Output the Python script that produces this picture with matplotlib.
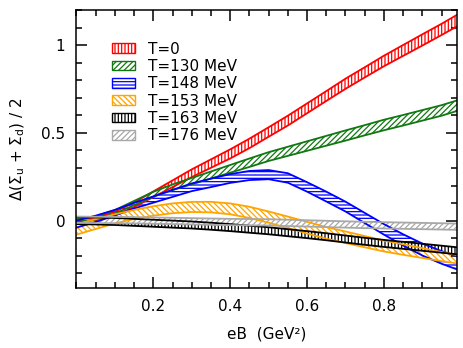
import numpy as np
import matplotlib
matplotlib.use("Agg")
import matplotlib.pyplot as plt
from matplotlib.patches import Patch
from matplotlib.ticker import MultipleLocator, FixedLocator

# eB grid (GeV^2) and band centres / half widths
eB = [0.0, 0.05, 0.1, 0.15, 0.2, 0.25, 0.3, 0.35, 0.4, 0.45, 0.5,
      0.55, 0.6, 0.65, 0.7, 0.75, 0.8, 0.85, 0.9, 0.95, 0.99]

t0_mid = [0.0, 0.01, 0.04, 0.09, 0.15, 0.21, 0.27, 0.325, 0.38, 0.44, 0.505,
          0.57, 0.64, 0.71, 0.78, 0.845, 0.91, 0.97, 1.03, 1.09, 1.14]
t0_hw = [0.006, 0.008, 0.01, 0.013, 0.016, 0.019, 0.022, 0.024, 0.026, 0.027, 0.027,
         0.028, 0.028, 0.028, 0.029, 0.029, 0.030, 0.031, 0.032, 0.032, 0.033]

t130_mid = [0.0, 0.015, 0.05, 0.1, 0.15, 0.19, 0.225, 0.26, 0.295, 0.33, 0.365,
            0.395, 0.425, 0.455, 0.485, 0.515, 0.545, 0.572, 0.60, 0.628, 0.655]
t130_hw = [0.008, 0.009, 0.01, 0.012, 0.014, 0.016, 0.018, 0.02, 0.022, 0.024, 0.025,
           0.026, 0.027, 0.028, 0.029, 0.029, 0.030, 0.030, 0.030, 0.030, 0.030]

t148_mid = [-0.02, 0.01, 0.045, 0.085, 0.12, 0.155, 0.19, 0.215, 0.24, 0.257, 0.262,
            0.243, 0.192, 0.137, 0.08, 0.015, -0.05, -0.11, -0.165, -0.21, -0.24]
t148_hw = [0.02, 0.018, 0.016, 0.016, 0.018, 0.02, 0.022, 0.024, 0.025, 0.026, 0.026,
           0.027, 0.027, 0.028, 0.028, 0.029, 0.030, 0.032, 0.034, 0.036, 0.038]

t153_mid = [-0.05, -0.02, 0.01, 0.035, 0.055, 0.07, 0.078, 0.077, 0.067, 0.047, 0.02,
            -0.01, -0.04, -0.07, -0.095, -0.12, -0.145, -0.165, -0.185, -0.205, -0.22]
t153_hw = [0.03, 0.028, 0.026, 0.026, 0.027, 0.028, 0.029, 0.03, 0.031, 0.032, 0.032,
           0.033, 0.033, 0.033, 0.033, 0.032, 0.031, 0.03, 0.028, 0.026, 0.024]

t163_mid = [0.0, -0.002, -0.005, -0.01, -0.015, -0.02, -0.025, -0.032, -0.04, -0.049, -0.058,
            -0.069, -0.08, -0.092, -0.105, -0.118, -0.13, -0.141, -0.152, -0.163, -0.172]
t163_hw = [0.02] * 21

t176_mid = [0.005, 0.004, 0.003, 0.002, 0.0, -0.002, -0.004, -0.006, -0.008, -0.009, -0.01,
            -0.013, -0.016, -0.019, -0.022, -0.025, -0.027, -0.029, -0.031, -0.033, -0.035]
t176_hw = [0.018] * 21

labels = ["T=0", "T=130 MeV", "T=148 MeV", "T=153 MeV", "T=163 MeV", "T=176 MeV"]
colors = ["#ff0000", "#117711", "#0000ff", "#ffa500", "#000000", "#a8a8a8"]
hatches = ["|||||", "//////", "-----", "\\\\\\\\\\\\", "|||||", "//////"]
mids = [t0_mid, t130_mid, t148_mid, t153_mid, t163_mid, t176_mid]
hws = [t0_hw, t130_hw, t148_hw, t153_hw, t163_hw, t176_hw]

plt.rcParams["font.family"] = "DejaVu Sans"
plt.rcParams["hatch.linewidth"] = 0.9

fig = plt.figure(figsize=(4.63, 3.48), dpi=100)
ax = fig.add_axes([0.165, 0.172, 0.822, 0.799])

x = np.array(eB)
handles = []
for lab, c, h, m, w in zip(labels, colors, hatches, mids, hws):
    m = np.array(m)
    w = np.array(w)
    ax.fill_between(x, m - w, m + w, facecolor="white", edgecolor=c,
                    hatch=h, linewidth=0)
    ax.plot(x, m + w, color=c, lw=1.3)
    ax.plot(x, m - w, color=c, lw=1.3)
    handles.append(Patch(facecolor="white", edgecolor=c, hatch=h,
                         linewidth=1.0, label=lab))

ax.set_xlim(0, 0.99)
ax.set_ylim(-0.385, 1.2)
ax.xaxis.set_major_locator(FixedLocator([0.2, 0.4, 0.6, 0.8]))
ax.xaxis.set_minor_locator(MultipleLocator(0.05))
ax.yaxis.set_major_locator(MultipleLocator(0.5))
ax.yaxis.set_minor_locator(MultipleLocator(0.1))
ax.yaxis.set_major_formatter(plt.FuncFormatter(lambda v, p: f"{v:g}"))
ax.tick_params(which="both", direction="in", top=True, right=True,
               labelsize=11, width=1.1)
ax.tick_params(which="major", length=8, pad=8)
ax.tick_params(which="minor", length=4)
for s in ax.spines.values():
    s.set_linewidth(1.1)

ax.set_xlabel("eB  (GeV²)", fontsize=11, labelpad=9)
ax.set_ylabel(r"Δ(Σ$_\mathrm{u}$ + Σ$_\mathrm{d}$) / 2", fontsize=11, labelpad=10)

ax.legend(handles=handles, loc="upper left", bbox_to_anchor=(0.065, 0.925),
          frameon=False, fontsize=11, handlelength=1.5, handleheight=0.6,
          labelspacing=0.15, handletextpad=0.9, borderpad=0.2)

fig.savefig("out.png", dpi=100)
